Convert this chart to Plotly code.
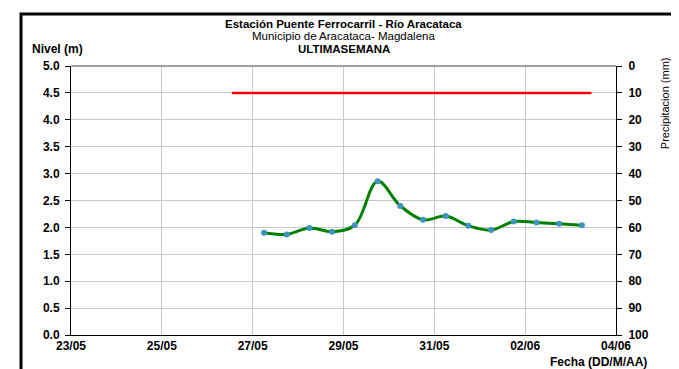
import plotly.graph_objects as go

# ---- data ----
fechas = [
    "2019-05-27 06:00", "2019-05-27 18:00", "2019-05-28 06:00", "2019-05-28 18:00",
    "2019-05-29 06:00", "2019-05-29 18:00", "2019-05-30 06:00", "2019-05-30 18:00",
    "2019-05-31 06:00", "2019-05-31 18:00", "2019-06-01 06:00", "2019-06-01 18:00",
    "2019-06-02 06:00", "2019-06-02 18:00", "2019-06-03 06:00",
]
nivel = [1.90, 1.87, 1.99, 1.92, 2.04, 2.86, 2.40, 2.14, 2.21, 2.03, 1.95, 2.11, 2.09, 2.07, 2.04]

umbral_fechas = ["2019-05-26 13:00", "2019-06-03 11:00"]
umbral_nivel = [4.5, 4.5]

x_rango = ["2019-05-23", "2019-06-04"]
fecha_ticks = ["2019-05-23", "2019-05-25", "2019-05-27", "2019-05-29",
               "2019-05-31", "2019-06-02", "2019-06-04"]
fecha_labels = ["23/05", "25/05", "27/05", "29/05", "31/05", "02/06", "04/06"]
nivel_ticks = [0.0, 0.5, 1.0, 1.5, 2.0, 2.5, 3.0, 3.5, 4.0, 4.5, 5.0]
precip_ticks = [0, 10, 20, 30, 40, 50, 60, 70, 80, 90, 100]

titulo1 = "Estación Puente Ferrocarril - Río Aracataca"
titulo2 = "Municipio de Aracataca- Magdalena"
titulo3 = "ULTIMASEMANA"

FONT = "Liberation Sans, Arial, sans-serif"

fig = go.Figure()
fig.add_trace(go.Scatter(x=umbral_fechas, y=umbral_nivel, mode="lines",
                         line=dict(color="#ff0000", width=2.5), showlegend=False,
                         hoverinfo="skip"))
fig.add_trace(go.Scatter(x=fechas, y=nivel, mode="lines+markers",
                         line=dict(color="#008000", width=3, shape="spline", smoothing=1),
                         marker=dict(color="#3f93bf", size=6),
                         showlegend=False))
# dummy trace so the precipitation axis is drawn
fig.add_trace(go.Scatter(x=[x_rango[0]], y=[0], yaxis="y2", mode="markers",
                         marker=dict(opacity=0), showlegend=False, hoverinfo="skip"))

tickfont = dict(family=FONT, size=12, color="#000000")

fig.update_layout(
    width=679, height=369,
    margin=dict(l=63, r=71, t=58, b=42),
    paper_bgcolor="#ffffff", plot_bgcolor="#ffffff",
    font=dict(family=FONT, color="#000000"),
    xaxis=dict(type="date", range=x_rango, tickmode="array", tickvals=fecha_ticks,
               ticktext=["<b>%s</b>" % t for t in fecha_labels], tickfont=tickfont,
               showgrid=True, gridcolor="#c8c8c8", gridwidth=1, showline=True,
               linecolor="#000000", linewidth=1, ticks="", zeroline=False),
    yaxis=dict(range=[0, 5], tickmode="array", tickvals=nivel_ticks,
               ticktext=["<b>%.1f</b>" % v for v in nivel_ticks], tickfont=tickfont,
               showgrid=True, gridcolor="#c8c8c8", gridwidth=1, showline=True,
               linecolor="#000000", linewidth=1, ticks="outside", ticklen=5,
               tickcolor="#000000", zeroline=False, ticklabelstandoff=3),
    yaxis2=dict(range=[100, 0], tickmode="array", tickvals=precip_ticks,
                ticktext=["<b>%d</b>" % v for v in precip_ticks], overlaying="y",
                side="right", tickfont=tickfont, showgrid=False, showline=True,
                linecolor="#000000", linewidth=1, ticks="outside", ticklen=5,
                tickcolor="#000000", zeroline=False, ticklabelstandoff=4),
    shapes=[
        dict(type="rect", xref="paper", yref="paper", x0=-0.0917, x1=1.1156,
             y0=-0.25, y1=1.193, line=dict(color="#000000", width=3)),
        dict(type="line", xref="paper", yref="paper", x0=0, x1=1, y0=1, y1=1,
             line=dict(color="#a0a0a0", width=2)),
    ],
    annotations=[
        dict(text="<b>" + titulo1 + "</b>", xref="paper", yref="paper", x=0.5,
             y=1.156, showarrow=False, font=dict(size=11.5), xanchor="center", yanchor="middle"),
        dict(text=titulo2, xref="paper", yref="paper", x=0.5, y=1.110,
             showarrow=False, font=dict(size=11.5), xanchor="center", yanchor="middle"),
        dict(text="<b>" + titulo3 + "</b>", xref="paper", yref="paper", x=0.5, y=1.063,
             showarrow=False, font=dict(size=11.5), xanchor="center", yanchor="middle"),
        dict(text="<b>Nivel (m)</b>", xref="paper", yref="paper", x=-0.075, y=1.063,
             showarrow=False, font=dict(size=12), xanchor="left", yanchor="middle"),
        dict(text="Precipitacion (mm)", xref="paper", yref="paper", x=1.09, y=0.862,
             showarrow=False, font=dict(size=11), textangle=-90, xanchor="center",
             yanchor="middle"),
        dict(text="<b>Fecha (DD/M/AA)</b>", xref="paper", yref="paper", x=1.06, y=-0.1,
             showarrow=False, font=dict(size=12), xanchor="right", yanchor="middle"),
    ],
)

fig.write_html("out.html")
